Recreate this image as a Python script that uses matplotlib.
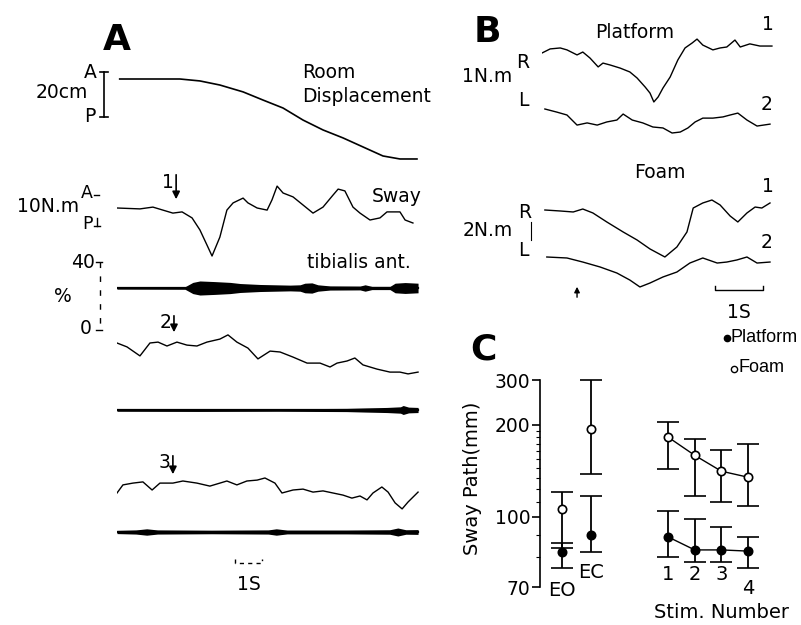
import numpy as np
import matplotlib
matplotlib.use("Agg")
import matplotlib.pyplot as plt
from matplotlib.transforms import blended_transform_factory

plt.rcParams['font.family'] = ['DejaVu Sans']

W, H = 801, 625

# ---- panel A: traces (time in s, values in physical units) ----
room_t = [0.1, 2.33, 3.07, 3.81, 4.67, 5.41, 6.15, 6.89, 7.63, 8.37, 9.11, 9.85, 10.48, 11.11]
room_cm = [0, 0, -0.9, -2.8, -6.0, -9.8, -13.5, -19.1, -23.7, -27.4, -31.6, -35.8, -37.2, -37.2]

sway1_t = [0.0, 0.85, 1.33, 2.07, 2.41, 2.78, 3.07, 3.33, 3.52, 3.81, 4.07, 4.30, 4.67, 4.85, 5.19,
           5.56, 5.74, 5.93, 6.15, 6.52, 6.89, 7.26, 7.63, 8.00, 8.19, 8.44, 8.74, 9.00, 9.37, 9.74,
           10.00, 10.48, 10.67, 10.96]
sway1_nm = [0, -0.3, 0.3, -1.7, -1.3, -3.3, -7.3, -12.3, -16.0, -9.7, -0.7, 1.7, 3.3, 1.7, 0,
            -0.7, 2.7, 7.3, 5.0, 3.7, 1.0, -1.7, 0.3, 4.3, 6.3, 5.7, 0.3, -1.7, -4.0, -3.3,
            -1.3, -1.3, -4.0, -5.0]

sway2_t = [0.0, 0.37, 0.85, 1.22, 1.52, 1.85, 2.22, 2.59, 2.96, 3.33, 3.81, 4.11, 4.44, 4.85, 5.22,
           5.67, 6.04, 6.52, 7.04, 7.52, 7.89, 8.15, 8.52, 8.81, 9.11, 9.63, 10.11, 10.48, 10.78, 11.15]
sway2_nm = [0, -1.3, -4.3, 0, 0.3, -1.0, 0.3, -0.7, -1.0, 0.3, 1.3, 2.7, 0.3, -1.7, -5.3,
            -2.7, -3.0, -4.7, -6.7, -6.7, -8.0, -6.7, -6.0, -5.0, -7.3, -8.7, -9.7, -9.7, -10.3, -9.7]

sway3_t = [0.0, 0.22, 0.59, 0.96, 1.30, 1.59, 2.07, 2.44, 2.96, 3.44, 4.07, 4.44, 4.81, 5.19, 5.48,
           5.85, 6.11, 6.52, 6.89, 7.26, 7.63, 8.00, 8.37, 8.70, 9.00, 9.26, 9.48, 9.81, 10.04, 10.30,
           10.56, 10.78, 11.15]
sway3_nm = [0, 2.7, 3.3, 3.7, 1.0, 3.3, 3.3, 4.0, 3.3, 2.3, 4.0, 2.7, 4.0, 4.3, 5.0,
            3.3, 0, 1.0, 1.3, 0.3, 0.7, 0, -0.7, -1.7, -1.0, -2.3, 0, 2.0, 0.3, -3.3,
            -5.3, -3.0, 0.3]

# EMG envelope, half amplitude in %
emg1_t = [0, 2.52, 2.81, 3.07, 3.63, 4.19, 4.56, 5.30, 6.41, 6.78, 6.96, 7.22, 7.44, 7.89, 9.00,
          9.19, 9.44, 10.11, 10.30, 10.67, 11.15]
emg1_pct = [0.7, 0.8, 3.5, 4.4, 4.0, 3.5, 2.8, 2.2, 1.8, 2.0, 3.0, 3.2, 2.0, 1.3, 1.2,
            2.0, 1.0, 1.0, 3.0, 3.4, 3.0]
emg2_t = [0, 3.0, 6.0, 8.5, 9.2, 10.0, 10.5, 10.6, 10.8, 11.15]
emg2_pct = [0.8, 0.9, 0.8, 1.0, 1.3, 1.6, 2.0, 2.8, 1.8, 1.6]
emg3_t = [0, 0.7, 1.1, 1.5, 3.5, 5.6, 5.9, 6.3, 8.5, 10.1, 10.4, 10.7, 11.15]
emg3_pct = [1.0, 1.3, 2.0, 1.3, 1.1, 1.3, 2.0, 1.2, 1.2, 1.4, 2.5, 1.4, 1.5]

stim_t = [2.19, 2.11, 2.07]

# ---- panel B: lateral sway (N.m, R up) ----
plat1_t = [0, 0.17, 0.38, 0.52, 0.73, 0.85, 1.00, 1.17, 1.27, 1.42, 1.63, 1.83, 1.98, 2.15, 2.25, 2.33,
           2.42, 2.52, 2.67, 2.83, 2.98, 3.13, 3.23, 3.35, 3.56, 3.71, 3.85, 4.02, 4.13, 4.33, 4.54, 4.79]
plat1_nm = [0, 0.17, 0.21, 0.13, -0.08, 0.04, -0.21, -0.58, -0.42, -0.5, -0.63, -0.79, -1.04, -1.42,
            -1.67, -2.04, -1.83, -1.46, -1.0, -0.29, 0.21, 0.42, 0.58, 0.33, 0.13, 0.21, 0.25, 0.54,
            0.25, 0.38, 0.29, 0.29]
plat2_t = [0.06, 0.31, 0.52, 0.73, 0.94, 1.15, 1.35, 1.56, 1.69, 1.88, 2.10, 2.31, 2.52, 2.71, 2.88,
           3.04, 3.19, 3.35, 3.56, 3.77, 3.92, 4.08, 4.27, 4.48, 4.75]
plat2_nm = [0, -0.13, -0.25, -0.67, -0.58, -0.67, -0.54, -0.46, -0.21, -0.46, -0.58, -0.75, -0.79,
            -1.0, -0.96, -0.79, -0.54, -0.38, -0.38, -0.33, -0.25, -0.17, -0.46, -0.71, -0.63]
foam1_t = [0.06, 0.38, 0.65, 0.85, 1.06, 1.35, 1.69, 1.98, 2.25, 2.56, 2.81, 3.02, 3.15, 3.35, 3.54,
           3.71, 3.92, 4.08, 4.27, 4.44, 4.58, 4.75]
foam1_nm = [0, -0.11, -0.22, 0.11, -0.33, -1.33, -2.44, -3.33, -4.33, -5.22, -4.11, -2.44, 0.22, 0.78,
            1.11, 0.56, -0.67, -1.33, -0.33, 0.33, 0.22, 0.78]
foam2_t = [0.1, 0.52, 0.85, 1.21, 1.56, 1.83, 2.04, 2.25, 2.52, 2.81, 3.08, 3.35, 3.65, 3.85, 4.06,
           4.27, 4.48, 4.75]
foam2_nm = [0, -0.11, -0.56, -1.11, -1.78, -2.56, -3.33, -2.89, -2.22, -1.67, -0.67, -0.11, -0.67,
            -0.56, -0.33, 0, -0.67, -0.56]
b_stim_t = 0.73

# ---- panel C: sway path (mm) ----
cond_labels = ['EO', 'EC']
cond_foam = [105, 193]
cond_foam_lo = [84, 134]
cond_foam_hi = [118, 300]
cond_plat = [82, 90]
cond_plat_lo = [76, 82]
cond_plat_hi = [86, 115]

stim_labels = ['1', '2', '3', '4']
stim_foam = [180, 155, 137, 131]
stim_foam_lo = [139, 115, 110, 107]
stim_foam_hi = [205, 177, 162, 170]
stim_plat = [89, 83, 83, 82.5]
stim_plat_lo = [80, 78, 78, 76]
stim_plat_hi = [104, 99, 94, 89]


def px_rect(x0, y0, x1, y1):
    return [x0 / W, 1 - y1 / H, (x1 - x0) / W, (y1 - y0) / H]


fig = plt.figure(figsize=(W / 100, H / 100), dpi=100)

ov = fig.add_axes([0, 0, 1, 1])
ov.set_xlim(0, W)
ov.set_ylim(H, 0)
ov.axis('off')

FS = 13.5
LW = 1.0

# ---------------- A ----------------
ax_a = fig.add_axes(px_rect(117, 0, 420, H))
ax_a.set_xlim(0, 303 / 27)
ax_a.set_ylim(H, 0)
ax_a.axis('off')

ax_a.plot(room_t, 79 - 2.15 * np.array(room_cm), color='k', lw=1.2)
for t, v, row in [(sway1_t, sway1_nm, 208), (sway2_t, sway2_nm, 343), (sway3_t, sway3_nm, 493)]:
    ax_a.plot(t, row - 3 * np.array(v), color='k', lw=LW)
for t, a, row in [(emg1_t, emg1_pct, 288), (emg2_t, emg2_pct, 410), (emg3_t, emg3_pct, 532)]:
    a = 1.6 * np.array(a)
    ax_a.fill_between(t, row - a, row + a, color='k', lw=0)
    ax_a.plot([t[0], t[-1]], [row, row], color='k', lw=1.6)

arrow_rows = [(172, 202), (313, 335), (453, 477)]
for i, (ts, (y0, y1)) in enumerate(zip(stim_t, arrow_rows)):
    ax_a.annotate('', xy=(ts, y1), xytext=(ts, y0),
                  arrowprops=dict(arrowstyle='-|>', color='k', lw=1.2, mutation_scale=11))
    ax_a.text(ts - 0.3, y0 + 10, str(i + 1), fontsize=FS, ha='center', va='center')

# 1 s bar
ax_a.plot([4.37, 4.37, 5.37, 5.37], [559, 563, 563, 559], color='k', lw=1.0, ls=(0, (3, 3)))
ax_a.text(4.9, 585, '1S', fontsize=FS, ha='center', va='center')

ov.text(117, 40, 'A', fontsize=26, fontweight='bold', ha='center', va='center')
ov.text(302, 73, 'Room', fontsize=FS, ha='left', va='center')
ov.text(302, 96, 'Displacement', fontsize=FS, ha='left', va='center')
ov.text(88, 92, '20cm', fontsize=FS, ha='right', va='center')
ov.text(90, 72, 'A', fontsize=FS, ha='center', va='center')
ov.text(90, 117, 'P', fontsize=FS, ha='center', va='center')
ov.plot([104, 104], [72, 117], color='k', lw=1.2)
ov.plot([100, 108], [72, 72], color='k', lw=1.2)
ov.plot([100, 108], [117, 117], color='k', lw=1.2)

ov.text(79, 207, '10N.m', fontsize=FS, ha='right', va='center')
ov.text(87, 193, 'A', fontsize=FS - 1, ha='center', va='center')
ov.text(87, 224, 'P', fontsize=FS - 1, ha='center', va='center')
ov.plot([94, 99], [195, 195], color='k', lw=1.0)
ov.plot([94, 100], [226, 226], color='k', lw=1.0)
ov.plot([97, 97], [218, 226], color='k', lw=1.0)
ov.text(372, 197, 'Sway', fontsize=FS, ha='left', va='center')
ov.text(307, 262, 'tibialis ant.', fontsize=FS, ha='left', va='center')

ov.text(95, 263, '40', fontsize=FS, ha='right', va='center')
ov.text(63, 297, '%', fontsize=FS, ha='center', va='center')
ov.text(92, 328, '0', fontsize=FS, ha='right', va='center')
ov.plot([100, 100], [262, 330], color='k', lw=1.0, ls=(0, (4, 6)))
ov.plot([96, 102], [262, 262], color='k', lw=1.0)
ov.plot([96, 102], [330, 330], color='k', lw=1.0)

# ---------------- B ----------------
ax_b = fig.add_axes(px_rect(542, 0, 775, H))
ax_b.set_xlim(0, 233 / 48)
ax_b.set_ylim(H, 0)
ax_b.axis('off')
for t, v, row, sc in [(plat1_t, plat1_nm, 53, 24), (plat2_t, plat2_nm, 109, 24),
                      (foam1_t, foam1_nm, 210, 9), (foam2_t, foam2_nm, 257, 9)]:
    ax_b.plot(t, row - sc * np.array(v), color='k', lw=LW)
ax_b.annotate('', xy=(b_stim_t, 284), xytext=(b_stim_t, 300),
              arrowprops=dict(arrowstyle='-|>', color='k', lw=1.0, mutation_scale=8))
ax_b.plot([3.6, 3.6, 4.6, 4.6], [286, 290, 290, 286], color='k', lw=1.0)
ax_b.text(4.1, 312, '1S', fontsize=FS, ha='center', va='center')

ov.text(487, 32, 'B', fontsize=26, fontweight='bold', ha='center', va='center')
ov.text(635, 32, 'Platform', fontsize=FS, ha='center', va='center')
ov.text(768, 25, '1', fontsize=FS, ha='center', va='center')
ov.text(767, 105, '2', fontsize=FS, ha='center', va='center')
ov.text(512, 77, '1N.m', fontsize=FS, ha='right', va='center')
ov.text(523, 63, 'R', fontsize=FS, ha='center', va='center')
ov.text(523, 101, 'L', fontsize=FS, ha='center', va='center')
ov.text(660, 173, 'Foam', fontsize=FS, ha='center', va='center')
ov.text(768, 187, '1', fontsize=FS, ha='center', va='center')
ov.text(767, 243, '2', fontsize=FS, ha='center', va='center')
ov.text(513, 230, '2N.m', fontsize=FS, ha='right', va='center')
ov.text(525, 213, 'R', fontsize=FS, ha='center', va='center')
ov.text(523, 250, 'L', fontsize=FS, ha='center', va='center')
ov.plot([531, 531], [222, 240], color='k', lw=0.8)

# ---------------- C ----------------
# the printed axis is compressed towards the top: log of (value - 45)
OFF = 45
def fwd(v):
    return np.log10(np.clip(np.asarray(v, dtype=float) - OFF, 1e-6, None))

def inv(y):
    return 10 ** np.asarray(y, dtype=float) + OFF

def yrow(v):
    return 517 - 205 * (fwd(v) - fwd(100))

ylo, yhi = 68, 320
ax_c1 = fig.add_axes(px_rect(540, yrow(yhi), 615, yrow(ylo)))
ax_c2 = fig.add_axes(px_rect(650, yrow(yhi), 770, yrow(ylo)))
for ax in (ax_c1, ax_c2):
    ax.set_yscale('function', functions=(fwd, inv))
    ax.set_ylim(ylo, yhi)
    ax.patch.set_alpha(0)
    for s in ('top', 'right', 'bottom'):
        ax.spines[s].set_visible(False)
    ax.set_xticks([])

ax_c1.set_xlim(1 - 22 / 29, 2 + 24 / 29)
ax_c1.spines['left'].set_bounds(70, 300)
ax_c1.spines['left'].set_linewidth(1.2)
ax_c1.set_yticks([70, 100, 200, 300])
ax_c1.set_yticklabels(['70', '100', '200', '300'])
ax_c1.yaxis.set_minor_locator(matplotlib.ticker.FixedLocator(
    [80, 90, 110, 120, 130, 140, 150, 160, 170, 180, 190]))
ax_c1.yaxis.set_minor_formatter(matplotlib.ticker.NullFormatter())
ax_c1.tick_params(axis='y', which='major', length=6, width=1.2, labelsize=FS, pad=1)
ax_c1.tick_params(axis='y', which='minor', length=3, width=0.8)

ax_c2.spines['left'].set_visible(False)
ax_c2.set_yticks([])
ax_c2.yaxis.set_minor_locator(matplotlib.ticker.NullLocator())
ax_c2.set_xlim(1 - 18 / 26.7, 4 + 22 / 26.7)

ebkw = dict(color='k', ecolor='k', capsize=8, elinewidth=1.3, capthick=1.3, ms=6, mec='k', mew=1.2)
cx = np.arange(1, len(cond_labels) + 1)
ax_c1.errorbar(cx, cond_foam, yerr=[np.subtract(cond_foam, cond_foam_lo), np.subtract(cond_foam_hi, cond_foam)],
               fmt='o', mfc='white', **ebkw)
ax_c1.errorbar(cx, cond_plat, yerr=[np.subtract(cond_plat, cond_plat_lo), np.subtract(cond_plat_hi, cond_plat)],
               fmt='o', mfc='k', **ebkw)
sx = np.arange(1, len(stim_labels) + 1)
ax_c2.errorbar(sx, stim_foam, yerr=[np.subtract(stim_foam, stim_foam_lo), np.subtract(stim_foam_hi, stim_foam)],
               fmt='-o', mfc='white', lw=1.0, **ebkw)
ax_c2.errorbar(sx, stim_plat, yerr=[np.subtract(stim_plat, stim_plat_lo), np.subtract(stim_plat_hi, stim_plat)],
               fmt='-o', mfc='k', lw=1.0, **ebkw)

tr1 = blended_transform_factory(ax_c1.transData, ov.transData)
ax_c1.text(1, 590, cond_labels[0], transform=tr1, fontsize=FS + 0.5, ha='center', va='center')
ax_c1.text(2.0, 573, cond_labels[1], transform=tr1, fontsize=FS + 0.5, ha='center', va='center')
tr2 = blended_transform_factory(ax_c2.transData, ov.transData)
for x, lab in zip(sx, stim_labels):
    ax_c2.text(x, 589 if lab == '4' else 574, lab, transform=tr2, fontsize=FS + 0.5, ha='center', va='center')

ov.text(483, 350, 'C', fontsize=26, fontweight='bold', ha='center', va='center')
ov.text(473, 478, 'Sway Path(mm)', fontsize=FS + 0.5, rotation=90, ha='center', va='center')
ov.text(722, 612, 'Stim. Number', fontsize=FS + 0.5, ha='center', va='center')

# key
ov.plot([727], [338], 'o', ms=4.5, color='k')
ov.plot([734], [369], 'o', ms=4.5, mfc='white', mec='k', mew=1.0)
ov.text(731, 337, 'Platform', fontsize=13, family=['Liberation Sans', 'DejaVu Sans'],
        ha='left', va='center')
ov.text(738, 368, 'Foam', fontsize=13, family=['Liberation Sans', 'DejaVu Sans'],
        ha='left', va='center')

fig.savefig('out.png', dpi=100)
